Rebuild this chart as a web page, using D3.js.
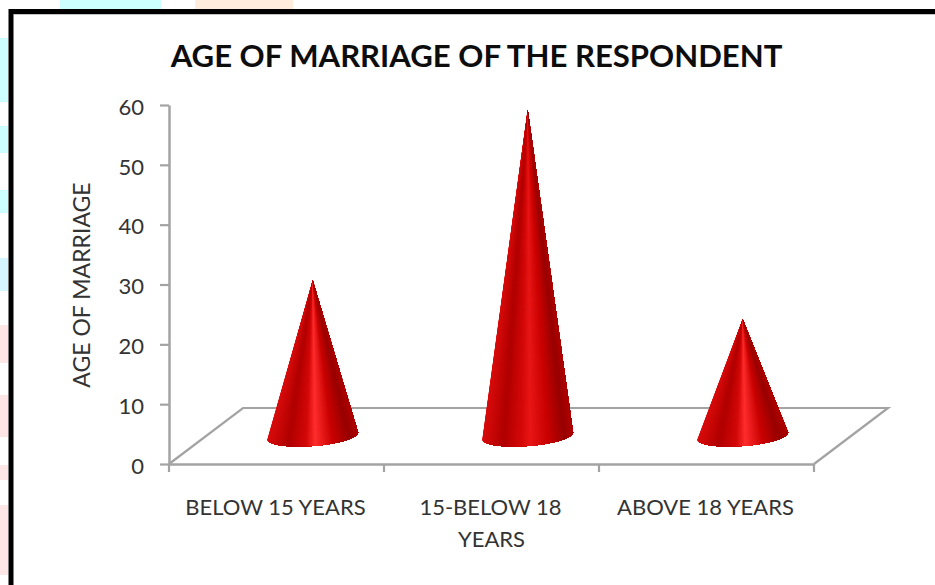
<!DOCTYPE html>
<html>
<head>
<meta charset="utf-8">
<script src="https://cdn.jsdelivr.net/npm/d3@7"></script>
<style>
  html, body { margin: 0; padding: 0; background: #fff; }
  svg { display: block; font-family: Lato, "Open Sans", sans-serif; }
</style>
</head>
<body>
<div id="chart"></div>
<script>
// chart values (3D floor offset taken out)
var categories = ["BELOW 15 YEARS", "15-BELOW 18 YEARS", "ABOVE 18 YEARS"];
var values = [26, 54.5, 19.5];
var yTicks = [0, 10, 20, 30, 40, 50, 60];
var highlights = ["#ff2d2d", "#e81616", "#ff2d2d"];

// pastel bits of the slide behind the chart frame
var slidePatches = [
  [0, 38, 8, 64, "#ccffff"], [0, 126, 8, 27, "#ccffff"], [0, 190, 8, 23, "#ccffff"],
  [0, 258, 8, 33, "#d5f5ff"], [0, 325, 8, 38, "#ffe6e6"], [0, 395, 8, 42, "#ffe6e6"],
  [0, 465, 8, 15, "#ffe6e6"], [0, 505, 8, 70, "#ffe6e6"],
  [60, 0, 101, 9, "#ccffff"], [195, 0, 98, 9, "#ffecdc"]
];

var width = 935, height = 585;
var depthX = 37, depthY = 28; // half the floor depth, cones stand in the middle
var axisColor = "#a3a3a3", textColor = "#333";
var labelFont = "22px Lato, sans-serif";

var svg = d3.select("#chart").append("svg")
    .attr("width", width)
    .attr("height", height);

svg.selectAll("rect.patch")
    .data(slidePatches)
    .enter().append("rect")
    .attr("class", "patch")
    .attr("x", function (d) { return d[0]; })
    .attr("y", function (d) { return d[1]; })
    .attr("width", function (d) { return d[2]; })
    .attr("height", function (d) { return d[3]; })
    .attr("fill", function (d) { return d[4]; });

// frame
svg.append("path")
    .attr("d", "M11,585V11.5H935")
    .attr("fill", "none")
    .attr("stroke", "#000")
    .attr("stroke-width", 5);
svg.append("line")
    .attr("x1", 14).attr("x2", 935)
    .attr("y1", 14.5).attr("y2", 14.5)
    .attr("stroke", "#c4c4c4");

var x = d3.scaleBand().domain(categories).range([169, 814]);
var y = d3.scaleLinear().domain([0, 60]).range([464, 105]);

// floor
var floorPts = [
  [x.range()[0], y(0)],
  [x.range()[0] + 2 * depthX, y(0) - 2 * depthY],
  [x.range()[1] + 2 * depthX, y(0) - 2 * depthY],
  [x.range()[1], y(0)]
];
svg.append("path")
    .attr("d", d3.line()(floorPts))
    .attr("fill", "none")
    .attr("stroke", axisColor)
    .attr("stroke-width", 2.2);

// y axis
var yAxis = svg.append("g")
    .attr("transform", "translate(" + x.range()[0] + ",0)")
    .call(d3.axisLeft(y).tickValues(yTicks).tickSize(9).tickSizeOuter(0).tickPadding(16));
yAxis.select(".domain").attr("stroke", axisColor).attr("stroke-width", 2.5);
yAxis.selectAll(".tick line").attr("stroke", axisColor).attr("stroke-width", 2.2);
yAxis.selectAll("text")
    .attr("fill", textColor)
    .attr("dy", "0.42em")
    .style("font", labelFont);

// x axis
var xAxis = svg.append("g")
    .attr("transform", "translate(0," + y(0) + ")")
    .call(d3.axisBottom(x).tickSize(0).tickPadding(35));
xAxis.select(".domain").attr("stroke", axisColor).attr("stroke-width", 2.5);
xAxis.selectAll(".tick text")
    .attr("fill", textColor)
    .attr("dx", -1)
    .style("font", labelFont)
    .each(function (d) {
        // long label wraps after "18"
        var m = d.match(/^(15-BELOW 18) (YEARS)$/);
        if (!m) return;
        var t = d3.select(this).text(null);
        t.append("tspan").attr("x", 0).text(m[1]);
        t.append("tspan").attr("x", 0).attr("dy", 32).text(m[2]);
    });

// x ticks sit between the categories
var edges = x.domain().map(function (c) { return x(c); }).concat(x.range()[1]);
svg.selectAll("line.xtick")
    .data(edges)
    .enter().append("line")
    .attr("class", "xtick")
    .attr("x1", function (d) { return d; })
    .attr("x2", function (d) { return d; })
    .attr("y1", y(0))
    .attr("y2", y(0) + 8)
    .attr("stroke", axisColor)
    .attr("stroke-width", 2.2);

// cones are built from thin slices so the shading runs up into the tip
var rx = 45.5, ry = 10, tilt = -4.5 * Math.PI / 180;
var nSlices = 120;

function basePoint(cx, cy, a) {
    var ex = rx * Math.cos(a), ey = ry * Math.sin(a);
    return [
        cx + ex * Math.cos(tilt) - ey * Math.sin(tilt),
        cy + ex * Math.sin(tilt) + ey * Math.cos(tilt)
    ];
}

var cones = svg.selectAll("g.cone")
    .data(categories)
    .enter().append("g")
    .attr("class", "cone");

cones.each(function (c, i) {
    var cx = x(c) + x.bandwidth() / 2 + depthX - 0.8;
    var cy = y(0) - depthY;
    var tip = [cx, y(values[i]) - depthY];
    var shade = d3.scaleLinear()
        .domain([0, 0.22, 0.42, 0.52, 0.72, 0.9, 1])
        .range(["#d80c0c", "#b00000", "#d40808", highlights[i], "#c80000", "#980000", "#b00000"]);
    var arcStep = Math.PI / nSlices;
    d3.select(this).selectAll("path")
        .data(d3.range(nSlices))
        .enter().append("path")
        .attr("d", function (k) {
            // runs on to the right edge, the next slice paints over it so no seams show
            var pts = [tip];
            d3.range(k, nSlices + 1).forEach(function (j) {
                pts.push(basePoint(cx, cy, Math.PI - j * arcStep));
            });
            return d3.line()(pts) + "Z";
        })
        .attr("fill", function (k) {
            var a = Math.PI - (k + 0.5) * arcStep;
            return shade((1 + Math.cos(a)) / 2);
        });
});

// title and y label
svg.append("text")
    .attr("x", 476.5)
    .attr("y", 67)
    .attr("text-anchor", "middle")
    .attr("font-size", 31.1)
    .attr("font-weight", 700)
    .attr("fill", "#0d0d0d")
    .text("AGE OF MARRIAGE OF THE RESPONDENT");

svg.append("text")
    .attr("transform", "translate(90,285) rotate(-90)")
    .attr("text-anchor", "middle")
    .attr("font-size", 23)
    .attr("fill", textColor)
    .text("AGE OF MARRIAGE");
</script>
</body>
</html>
